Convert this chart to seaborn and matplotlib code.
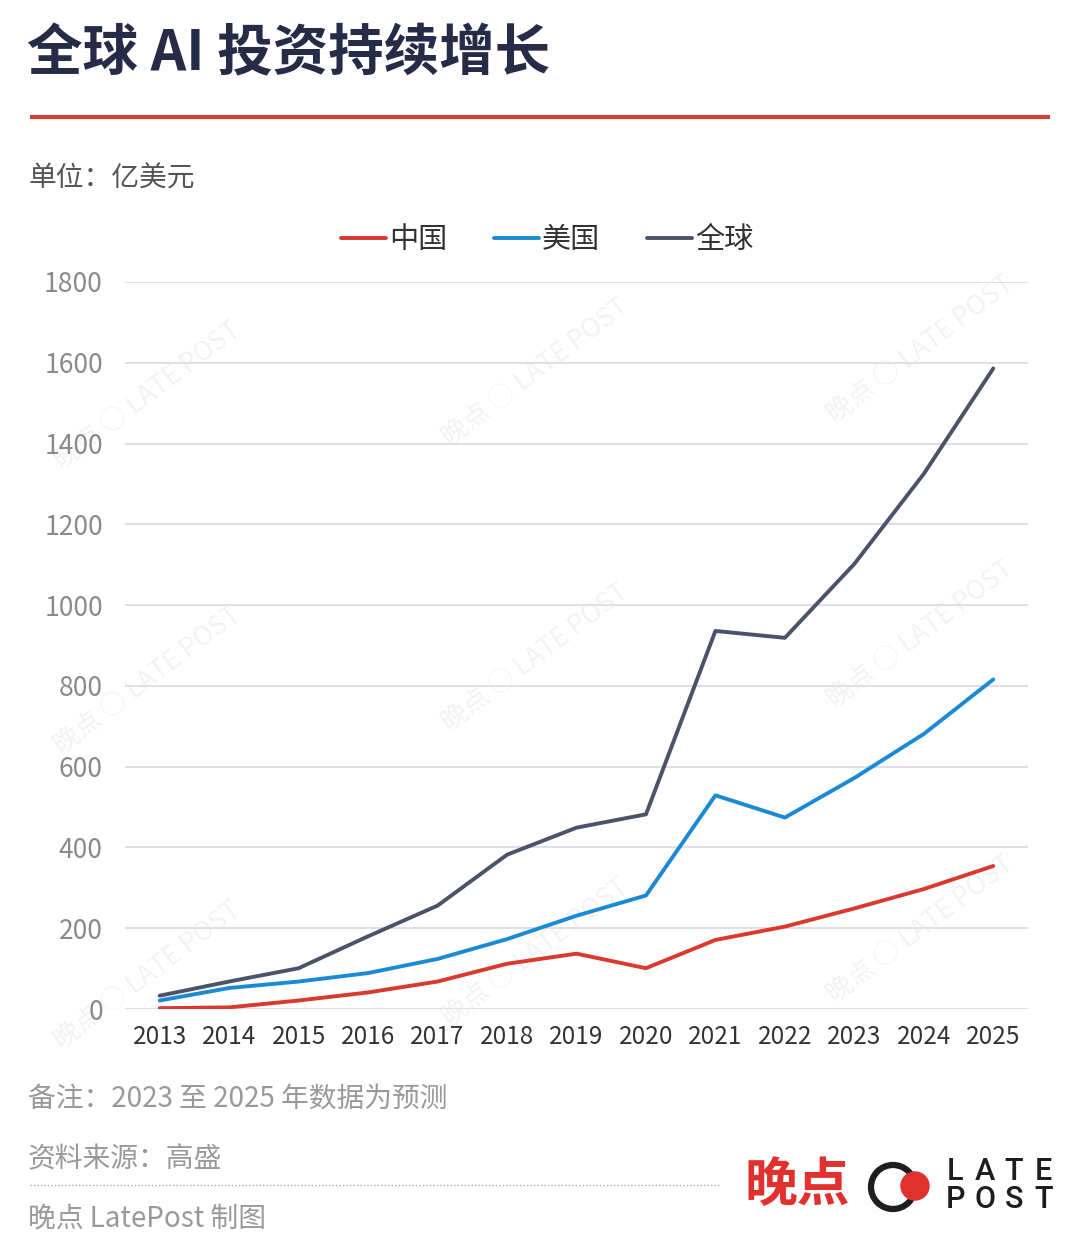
import numpy as np
import pandas as pd
import matplotlib
matplotlib.use("Agg")
import matplotlib.pyplot as plt
from matplotlib.patches import Circle
from matplotlib.lines import Line2D
import seaborn as sns

# data (unit: 100 million USD)
years = list(range(2013, 2026))
china = [2, 4, 21, 41, 68, 112, 137, 101, 171, 204, 249, 297, 354]
usa = [21, 52, 68, 89, 124, 173, 231, 281, 529, 474, 572, 681, 816]
world = [33, 68, 101, 180, 256, 382, 449, 482, 936, 919, 1102, 1325, 1586]
series_names = ["中国", "美国", "全球"]
series_colors = ["#d9392e", "#1a8ad4", "#4a5368"]
y_ticks = [0, 200, 400, 600, 800, 1000, 1200, 1400, 1600, 1800]

df = pd.DataFrame({
    "year": years * 3,
    "value": china + usa + world,
    "region": [series_names[0]] * 13 + [series_names[1]] * 13 + [series_names[2]] * 13,
})

sns.set_theme(style="white")
plt.rcParams["font.family"] = ["Noto Sans CJK SC", "DejaVu Sans"]

W, H = 1080, 1248
fig = plt.figure(figsize=(W / 100, H / 100), dpi=100)
fig.patch.set_facecolor("white")

# background axes in pixel coordinates for decorations
bg = fig.add_axes([0, 0, 1, 1], zorder=0)
bg.set_xlim(0, W)
bg.set_ylim(H, 0)
bg.axis("off")

# watermarks
for cx in [147, 535, 920]:
    for cy in [395, 680, 975]:
        bg.text(cx, cy - (cx - 147) * 0.06, "晚点 ○ LATE POST", rotation=37, fontsize=19,
                color="#000000", alpha=0.05, ha="center", va="center")

ax = fig.add_axes([125 / W, 1 - 1009 / H, (1028 - 125) / W, (1009 - 282) / H], zorder=1)
ax.patch.set_alpha(0)

sns.lineplot(data=df, x="year", y="value", hue="region", palette=series_colors,
             hue_order=series_names, linewidth=2.8, ax=ax, legend=False)

ax.set_xlim(2012.5, 2025.5)
ax.set_ylim(0, 1800)
ax.set_yticks(y_ticks)
ax.set_xticks(years)
ax.set_xticklabels([str(y) for y in years])
ax.grid(axis="y", color="#dde0e6", linewidth=1.4)
ax.grid(axis="x", visible=False)
for s in ax.spines.values():
    s.set_visible(False)
ax.tick_params(axis="y", length=0, pad=16, labelsize=19, labelcolor="#8a8a8a")
ax.tick_params(axis="x", length=0, pad=11, labelsize=17.5, labelcolor="#333333")
ax.set_xlabel("")
ax.set_ylabel("")

# legend
handles = [Line2D([0], [0], color=c, lw=2.8) for c in series_colors]
leg = fig.legend(handles, series_names, loc="center", bbox_to_anchor=(547 / W, 1 - 240 / H),
                 ncol=3, frameon=False, fontsize=21, handlelength=1.55, handletextpad=0.1,
                 columnspacing=1.6)
for t in leg.get_texts():
    t.set_color("#333333")

# title and header
bg.text(27, 54, "全球 AI 投资持续增长", fontsize=40, fontweight="bold", color="#262c48",
        ha="left", va="center")
bg.plot([30, 1050], [117, 117], color="#d0413a", lw=3, solid_capstyle="butt")
bg.text(28, 179, "单位：亿美元", fontsize=20, color="#555555", ha="left", va="center")

# footer
bg.text(28, 1100, "备注：2023 至 2025 年数据为预测", fontsize=20, color="#999999", ha="left", va="center")
bg.text(28, 1159, "资料来源：高盛", fontsize=20, color="#999999", ha="left", va="center")
bg.plot([30, 720], [1185, 1185], color="#aaaaaa", lw=1, linestyle=(0, (1, 1.5)))
bg.text(28, 1218, "晚点 LatePost 制图", fontsize=20, color="#999999", ha="left", va="center")

# logo
bg.text(797, 1186, "晚点", fontsize=38, fontweight="bold", color="#e0312e", ha="center", va="center")
bg.add_patch(Circle((893, 1187), 22, fill=False, edgecolor="#1e1e1e", lw=4.5))
bg.add_patch(Circle((915, 1186), 14, color="#e0312e"))
for i, ch in enumerate("LATE"):
    bg.text(955 + i * 29.5, 1172, ch, fontsize=22, fontweight="medium", color="#1e1e1e",
            ha="center", va="center", family="Roboto")
for i, ch in enumerate("POST"):
    bg.text(955 + i * 29.5, 1199, ch, fontsize=22, fontweight="medium", color="#1e1e1e",
            ha="center", va="center", family="Roboto")

fig.savefig("out.png", dpi=100, facecolor="white")
